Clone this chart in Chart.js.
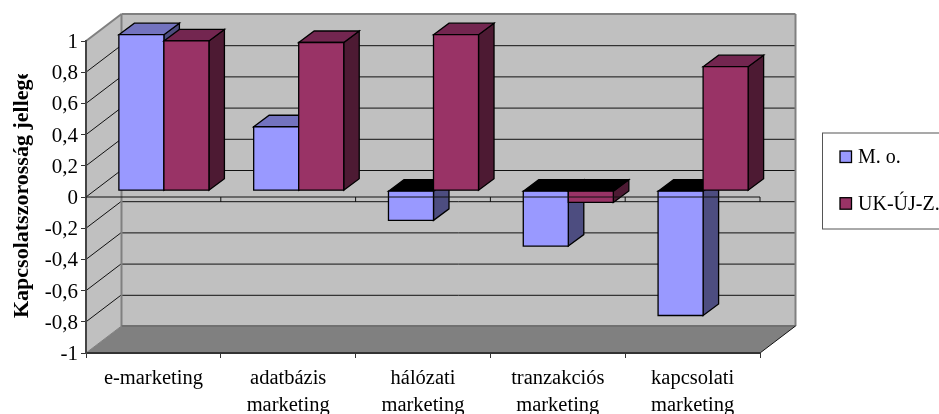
<!DOCTYPE html>
<html>
<head>
<meta charset="utf-8">
<style>
  html, body { margin: 0; padding: 0; background: #fff; overflow: hidden; }
  canvas { display: block; }
</style>
<script src="https://cdn.jsdelivr.net/npm/chart.js@4/dist/chart.umd.min.js"></script>
</head>
<body>
<canvas id="grafikon" width="939" height="414"></canvas>
<script>
const kategoriak = [
  ['e-marketing'],
  ['adatbázis', 'marketing'],
  ['hálózati', 'marketing'],
  ['tranzakciós', 'marketing'],
  ['kapcsolati', 'marketing']
];
const mo = [1, 0.41, -0.19, -0.355, -0.8];
const ukUjZ = [0.96, 0.95, 1, -0.075, 0.795];
const cimkeMo = 'M. o.';
const cimkeUk = 'UK-ÚJ-Z.';
const tengelyCim = 'Kapcsolatszorosság jellege';

const FONT = '"Liberation Serif", "Times New Roman", serif';

// 3D look: offsets of the back wall and of the bar bodies from the front plane
const FAL = { dx: 35.5, dy: -27 };
const OSZLOP = { dx: 10.5, dy: -6.3, melyX: 15.5, melyY: -11.5 };

const szinek = {
  mo: { elol: '#9999ff', teto: '#7373bf', oldal: '#4d4d80' },
  uk: { elol: '#993366', teto: '#732650', oldal: '#4d1a33' }
};

function sokszog(ctx, pontok, kitoltes, vonal, vastag) {
  ctx.beginPath();
  pontok.forEach((p, i) => i ? ctx.lineTo(p[0], p[1]) : ctx.moveTo(p[0], p[1]));
  ctx.closePath();
  if (kitoltes) { ctx.fillStyle = kitoltes; ctx.fill(); }
  if (vonal) { ctx.strokeStyle = vonal; ctx.lineWidth = vastag || 1; ctx.stroke(); }
}

function vonal(ctx, x1, y1, x2, y2, szin, vastag) {
  ctx.beginPath();
  ctx.moveTo(x1, y1);
  ctx.lineTo(x2, y2);
  ctx.strokeStyle = szin;
  ctx.lineWidth = vastag || 1;
  ctx.stroke();
}

const haromD = {
  id: 'haromD',

  // Walls, floor and gridlines, behind everything else
  beforeDraw(chart) {
    const { ctx, chartArea: { left, right, top, bottom }, scales: { y } } = chart;
    const hx = FAL.dx, hy = FAL.dy;
    ctx.save();
    sokszog(ctx, [[left + hx, top + hy], [right + hx, top + hy], [right + hx, bottom + hy], [left + hx, bottom + hy]], '#c0c0c0');
    sokszog(ctx, [[left, top], [left + hx, top + hy], [left + hx, bottom + hy], [left, bottom]], '#c0c0c0');
    sokszog(ctx, [[left, bottom], [left + hx, bottom + hy], [right + hx, bottom + hy], [right, bottom]], '#808080');

    y.ticks.forEach(t => {
      const py = y.getPixelForValue(t.value);
      if (t.value > -1 && t.value < 1) {
        vonal(ctx, left, py, left + hx, py + hy, '#111', 1);
        vonal(ctx, left + hx, py + hy + 0.5, right + hx, py + hy + 0.5, '#111', 1);
      }
    });

    // wall outline
    vonal(ctx, left, top, left + hx, top + hy, '#808080', 2);
    vonal(ctx, left + hx, top + hy, right + hx, top + hy, '#808080', 2);
    vonal(ctx, right + hx, top + hy, right + hx, bottom + hy, '#808080', 2);
    vonal(ctx, left + hx, top + hy, left + hx, bottom + hy, '#808080', 2);
    vonal(ctx, left + hx, bottom + hy, right + hx, bottom + hy, '#707070', 2);
    vonal(ctx, left, bottom, left + hx, bottom + hy, '#808080', 1);
    vonal(ctx, right, bottom, right + hx, bottom + hy, '#111', 1);
    ctx.restore();
  },

  // Bars are painted category by category so nearer faces cover the earlier ones
  beforeDatasetsDraw(chart) {
    const { ctx, data } = chart;
    ctx.save();
    ctx.lineJoin = 'miter';
    data.labels.forEach((_, i) => {
      data.datasets.forEach((ds, d) => {
        const bar = chart.getDatasetMeta(d).data[i];
        const szin = ds.szin;
        const x1 = bar.x - bar.width / 2 + OSZLOP.dx;
        const x2 = x1 + bar.width;
        const yt = Math.min(bar.y, bar.base) + OSZLOP.dy;
        const yb = Math.max(bar.y, bar.base) + OSZLOP.dy;
        const mx = OSZLOP.melyX, my = OSZLOP.melyY;
        // a negative bar shows a black top face
        const tetoSzin = ds.data[i] < 0 ? '#000' : szin.teto;
        sokszog(ctx, [[x2, yt], [x2 + mx, yt + my], [x2 + mx, yb + my], [x2, yb]], szin.oldal, '#000', 1.3);
        sokszog(ctx, [[x1, yt], [x1 + mx, yt + my], [x2 + mx, yt + my], [x2, yt]], tetoSzin, '#000', 1.3);
        sokszog(ctx, [[x1, yt], [x2, yt], [x2, yb], [x1, yb]], szin.elol, '#000', 1.3);
      });
    });
    ctx.restore();
    return false;
  },

  afterDraw(chart) {
    const { ctx, chartArea: { left, right }, scales: { y } } = chart;
    ctx.save();

    // zero line with its ticks, in front of the bars
    const nulla = y.getPixelForValue(0);
    vonal(ctx, left, nulla, right, nulla, '#111', 1);
    const lepes = (right - left) / chart.data.labels.length;
    for (let i = 1; i <= chart.data.labels.length; i++) {
      vonal(ctx, left + i * lepes, nulla, left + i * lepes, nulla + 5, '#111', 1);
    }

    // rotated axis title, its end is cut off by the plot frame
    ctx.save();
    ctx.beginPath();
    ctx.rect(0, 74, 60, 300);
    ctx.clip();
    ctx.translate(28, 318);
    ctx.rotate(-Math.PI / 2);
    ctx.font = 'bold 22px ' + FONT;
    ctx.fillStyle = '#000';
    ctx.textAlign = 'left';
    ctx.textBaseline = 'alphabetic';
    ctx.fillText(tengelyCim, 0, 0);
    ctx.restore();

    // legend box runs past the right edge of the canvas
    ctx.strokeStyle = '#555';
    ctx.lineWidth = 1;
    ctx.strokeRect(822.5, 133, 130, 96);
    ctx.font = '20px ' + FONT;
    ctx.textBaseline = 'middle';
    chart.data.datasets.forEach((ds, d) => {
      const ly = 157 + d * 46.7;
      ctx.fillStyle = ds.szin.elol;
      ctx.fillRect(840, ly - 6, 11.5, 11.5);
      ctx.strokeStyle = '#000';
      ctx.lineWidth = 1.3;
      ctx.strokeRect(840, ly - 6, 11.5, 11.5);
      ctx.fillStyle = '#000';
      ctx.fillText(ds.label, 858, ly + 1);
    });
    ctx.restore();
  }
};

new Chart(document.getElementById('grafikon'), {
  type: 'bar',
  data: {
    labels: kategoriak,
    datasets: [
      { label: cimkeMo, data: mo, backgroundColor: szinek.mo.elol, szin: szinek.mo },
      { label: cimkeUk, data: ukUjZ, backgroundColor: szinek.uk.elol, szin: szinek.uk }
    ]
  },
  options: {
    responsive: false,
    animation: false,
    layout: { padding: { top: 41, right: 179, bottom: 0, left: 0 } },
    datasets: { bar: { barPercentage: 1, categoryPercentage: 0.668 } },
    plugins: { legend: { display: false }, tooltip: { enabled: false } },
    scales: {
      x: {
        afterFit: s => { s.height = 61; },
        border: { color: '#333', width: 2 },
        grid: { drawOnChartArea: false, tickLength: 5, tickColor: '#333' },
        ticks: {
          color: '#000',
          autoSkip: false,
          maxRotation: 0,
          padding: 7,
          font: { family: FONT, size: 20.5, lineHeight: 1.32 }
        }
      },
      y: {
        min: -1,
        max: 1,
        afterFit: s => { s.width = 86; },
        border: { color: '#444', width: 2 },
        grid: { drawOnChartArea: false, tickLength: 5, tickColor: '#333' },
        ticks: {
          stepSize: 0.2,
          color: '#000',
          padding: 3,
          labelOffset: 1.5,
          font: { family: FONT, size: 21 },
          callback: v => String(Math.round(v * 10) / 10).replace('.', ',')
        }
      }
    }
  },
  plugins: [haromD]
});
</script>
</body>
</html>
